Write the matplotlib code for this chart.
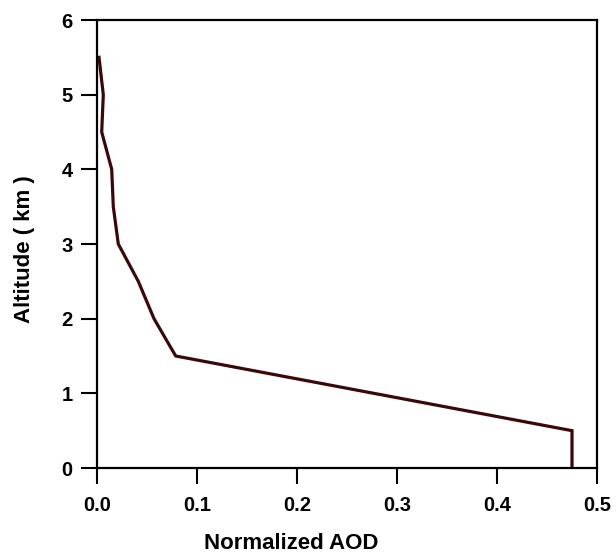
import matplotlib
matplotlib.use("Agg")
import matplotlib.pyplot as plt

aod = [0.002, 0.0063, 0.0047, 0.0147, 0.0163, 0.0213, 0.0413, 0.057, 0.0787, 0.475, 0.475]
altitude = [5.5, 5.0, 4.5, 4.0, 3.5, 3.0, 2.5, 2.0, 1.5, 0.5, 0.0]
xticks = [0.0, 0.1, 0.2, 0.3, 0.4, 0.5]
yticks = [0, 1, 2, 3, 4, 5, 6]

plt.rcParams['font.family'] = ['Liberation Sans', 'DejaVu Sans']
plt.rcParams['font.weight'] = 'bold'

W, H = 616, 553
fig = plt.figure(figsize=(W/100, H/100), dpi=100)
ax = fig.add_axes([97/W, (H-468)/H, (597-97)/W, (468-20)/H])

ax.plot(aod, altitude, color='#3a0808', lw=2.3, solid_joinstyle='miter')
ax.set_xlim(0, 0.5)
ax.set_ylim(0, 6)
ax.set_xticks(xticks)
ax.set_xticklabels([f"{v:.1f}" for v in xticks])
ax.set_yticks(yticks)
ax.set_yticklabels([str(v) for v in yticks])
for s in ax.spines.values():
    s.set_linewidth(1.6)
    s.set_color('black')
ax.tick_params(direction='out', length=11.5, width=1.5, labelsize=14.5,
               top=False, right=False)
ax.tick_params(axis='x', pad=9)
ax.tick_params(axis='y', pad=6)
ax.set_xlabel('Normalized AOD', fontsize=16, fontweight='bold', labelpad=12.5, x=0.388)
ax.set_ylabel('Altitude ( km )', fontsize=16, fontweight='bold', labelpad=19, y=0.489)

fig.savefig('out.png', dpi=100)
